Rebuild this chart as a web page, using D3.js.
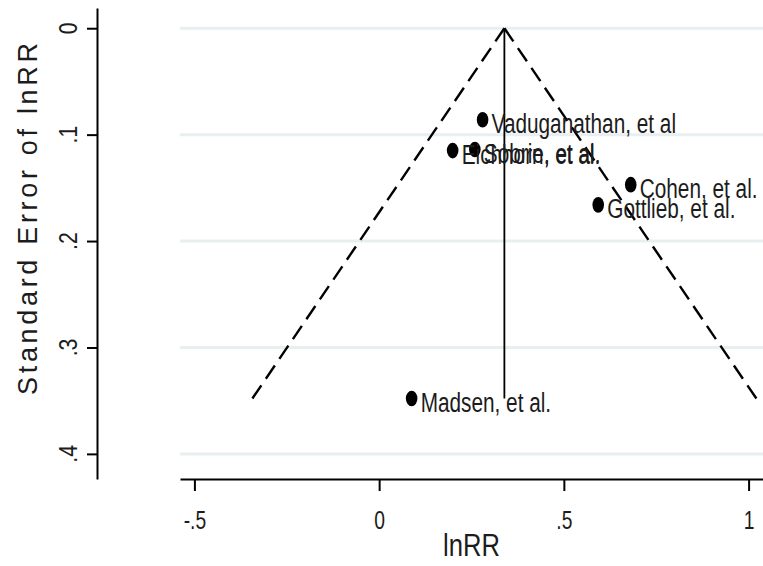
<!DOCTYPE html>
<html>
<head>
<meta charset="utf-8">
<script src="https://cdn.jsdelivr.net/npm/d3@7"></script>
<style>
  html, body { margin: 0; padding: 0; background: #fff; }
  svg { display: block; }
  text { font-family: "Liberation Sans Narrow", "Arial Narrow", "Liberation Sans", Arial, sans-serif; fill: #1c1c1c; }
</style>
</head>
<body>
<div id="chart"></div>
<script>
// ──────────────  data

const studies = ['Vaduganathan, et al', 'Eichhorn, et al.', 'Sobrie, et al.', 'Cohen, et al.', 'Gottlieb, et al.', 'Madsen, et al.'];
const lnRR    = [0.280, 0.199, 0.259, 0.681, 0.593, 0.088];
const seLnRR  = [0.086, 0.115, 0.114, 0.147, 0.166, 0.348];
const pooled  = 0.339;

const xTicks = [-0.5, 0, 0.5, 1];
const xTickLabels = ['-.5', '0', '.5', '1'];
const yTicks = [0, 0.1, 0.2, 0.3, 0.4];
const yTickLabels = ['0', '.1', '.2', '.3', '.4'];

// ──────────────  layout

const W = 763, H = 566;
const NARROW = 0.77;   // the source font is a condensed face; squeeze Liberation Sans to match

const svg = d3.select('#chart').append('svg')
  .attr('width', W).attr('height', H);

// axis extents slightly wider than the tick range, as Stata draws them
const x = d3.scaleLinear().domain([-0.539, 1.039]).range([180, 763]);
const y = d3.scaleLinear().domain([-0.019, 0.4236]).range([8, 479]);

// gridlines
svg.append('g').selectAll('line')
  .data(yTicks)
  .join('line')
  .attr('x1', x.range()[0]).attr('x2', x.range()[1])
  .attr('y1', d => y(d)).attr('y2', d => y(d))
  .attr('stroke', '#e7eff1')
  .attr('stroke-width', 3);

// funnel: pseudo 95% limits
const maxSE = d3.max(seLnRR);
const funnel = [
  [[pooled, 0], [pooled - 1.96 * maxSE, maxSE]],
  [[pooled, 0], [pooled + 1.96 * maxSE, maxSE]],
];
const line = d3.line().x(d => x(d[0])).y(d => y(d[1]));

svg.append('g').selectAll('path')
  .data(funnel)
  .join('path')
  .attr('d', line)
  .attr('fill', 'none')
  .attr('stroke', '#000')
  .attr('stroke-width', 2.4)
  .attr('stroke-dasharray', '16 8');

// pooled estimate
svg.append('path')
  .attr('d', line([[pooled, 0], [pooled, maxSE]]))
  .attr('stroke', '#000')
  .attr('stroke-width', 1.8);

// studies
const pts = studies.map((s, i) => ({ name: s, x: lnRR[i], se: seLnRR[i] }));

svg.append('g').selectAll('ellipse')
  .data(pts)
  .join('ellipse')
  .attr('cx', d => x(d.x))
  .attr('cy', d => y(d.se))
  .attr('rx', 5.8)
  .attr('ry', 7.8)
  .attr('fill', '#000');

svg.append('g').selectAll('text')
  .data(pts)
  .join('text')
  .attr('transform', d => `translate(${x(d.x) + 9},${y(d.se)}) scale(${NARROW},1)`)
  .attr('dy', '0.48em')
  .style('font-size', '27px')
  .text(d => d.name);

// ──────────────  axes

const xAxis = svg.append('g')
  .attr('transform', `translate(0,${y.range()[1]})`)
  .call(d3.axisBottom(x).tickValues(xTicks).tickSize(12).tickSizeOuter(0)
    .tickFormat((d, i) => xTickLabels[i]));
xAxis.select('.domain').attr('stroke-width', 2);
xAxis.selectAll('.tick line').attr('stroke-width', 2);
xAxis.selectAll('.tick text')
  .attr('y', 0).attr('dy', 0)
  .attr('transform', `translate(0,50) scale(${NARROW},1)`)
  .style('font-size', '25px')
  .style('font-family', null)
  .style('fill', '#1c1c1c');

const yAxis = svg.append('g')
  .attr('transform', 'translate(97,0)')
  .call(d3.axisLeft(y).tickValues(yTicks).tickSize(10).tickSizeOuter(0)
    .tickFormat(() => ''));
yAxis.select('.domain').attr('stroke-width', 2);
yAxis.selectAll('.tick line').attr('stroke-width', 2);

// rotated y tick labels
svg.append('g').selectAll('text')
  .data(yTicks)
  .join('text')
  .attr('transform', d => `translate(77,${y(d)}) rotate(-90) scale(0.85,1)`)
  .attr('text-anchor', 'middle')
  .style('font-size', '25px')
  .text((d, i) => yTickLabels[i]);

// axis titles
svg.append('text')
  .attr('transform', `translate(${(x.range()[0] + x.range()[1]) / 2},556) scale(0.8,1)`)
  .attr('text-anchor', 'middle')
  .style('font-size', '32px')
  .text('lnRR');

svg.append('text')
  .attr('transform', 'translate(37,219) rotate(-90)')
  .attr('text-anchor', 'middle')
  .attr('textLength', 352)
  .attr('lengthAdjust', 'spacing')
  .style('font-size', '27px')
  .text('Standard Error of lnRR');
</script>
</body>
</html>
